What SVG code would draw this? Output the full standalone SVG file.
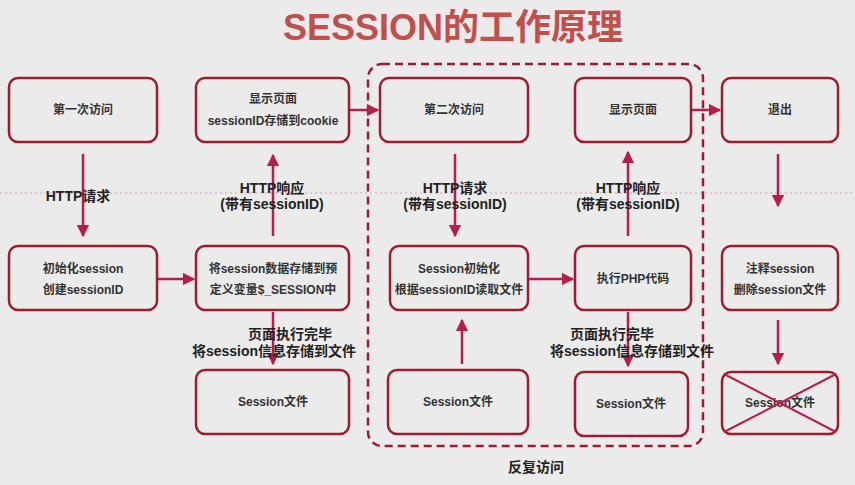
<svg xmlns="http://www.w3.org/2000/svg" width="855" height="485" viewBox="0 0 855 485">
<defs>
<marker id="ah" viewBox="0 0 10 10" refX="9" refY="5" markerWidth="5" markerHeight="5" orient="auto"><path d="M0,0L10,5L0,10z" fill="#b51d4c"/></marker>
<style>
.b{fill:none;stroke:#9b1b30;stroke-width:2.5}
.t{font-family:"Liberation Sans","Noto Sans CJK SC",sans-serif;font-size:12px;font-weight:bold;fill:#333;text-anchor:middle}
.l{font-family:"Liberation Sans","Noto Sans CJK SC",sans-serif;font-size:14px;font-weight:bold;fill:#222;text-anchor:middle}
.a{stroke:#b51d4c;stroke-width:2.5;fill:none;marker-end:url(#ah)}
</style>
</defs>
<rect width="855" height="485" fill="#ebebeb"/>
<line x1="0" y1="193" x2="855" y2="193" stroke="#d9a0aa" stroke-width="1" stroke-dasharray="2,3"/>
<text x="453" y="40" font-family="Liberation Sans,Noto Sans CJK SC,sans-serif" font-size="36" font-weight="bold" fill="#c0504d" text-anchor="middle">SESSION的工作原理</text>
<rect x="368" y="64" width="335" height="382" rx="14" fill="none" stroke="#9b1b30" stroke-width="2.5" stroke-dasharray="8,5"/>
<g id="connectors">
<line class="a" x1="83" y1="154" x2="83" y2="236"/>
<line class="a" x1="273" y1="236" x2="273" y2="155"/>
<line class="a" x1="273" y1="312" x2="273" y2="364"/>
<line class="a" x1="455" y1="154" x2="455" y2="236"/>
<line class="a" x1="462" y1="364" x2="462" y2="320"/>
<line class="a" x1="628" y1="236" x2="628" y2="152"/>
<line class="a" x1="628" y1="312" x2="628" y2="366"/>
<line class="a" x1="778" y1="154" x2="778" y2="206"/>
<line class="a" x1="778" y1="320" x2="778" y2="364"/>
<line class="a" x1="157" y1="279" x2="194" y2="279"/>
<line class="a" x1="349" y1="110" x2="378" y2="110"/>
<line class="a" x1="528" y1="279" x2="573" y2="279"/>
<line class="a" x1="691" y1="110" x2="720" y2="110"/>
</g>
<g id="n1"><rect class="b" x="9" y="78" width="148" height="64" rx="9"/><text class="t" x="83" y="114">第一次访问</text></g>
<g id="n2"><rect class="b" x="196" y="78" width="153" height="64" rx="9"/><text class="t" x="273" y="103">显示页面</text><text class="t" x="273" y="125">sessionID存储到cookie</text></g>
<g id="n3"><rect class="b" x="380" y="78" width="148" height="64" rx="9"/><text class="t" x="454" y="114">第二次访问</text></g>
<g id="n4"><rect class="b" x="575" y="78" width="116" height="64" rx="9"/><text class="t" x="633" y="114">显示页面</text></g>
<g id="n5"><rect class="b" x="722" y="78" width="116" height="64" rx="9"/><text class="t" x="780" y="114">退出</text></g>
<g id="n6"><rect class="b" x="9" y="246" width="148" height="64" rx="9"/><text class="t" x="83" y="273">初始化session</text><text class="t" x="83" y="294">创建sessionID</text></g>
<g id="n7"><rect class="b" x="196" y="246" width="153" height="64" rx="9"/><text class="t" x="273" y="273">将session数据存储到预</text><text class="t" x="273" y="294">定义变量$_SESSION中</text></g>
<g id="n8"><rect class="b" x="390" y="246" width="138" height="64" rx="9"/><text class="t" x="459" y="273">Session初始化</text><text class="t" x="459" y="294">根据sessionID读取文件</text></g>
<g id="n9"><rect class="b" x="575" y="246" width="116" height="64" rx="9"/><text class="t" x="633" y="283">执行PHP代码</text></g>
<g id="n10"><rect class="b" x="722" y="246" width="116" height="64" rx="9"/><text class="t" x="780" y="273">注释session</text><text class="t" x="780" y="294">删除session文件</text></g>
<g id="n11"><rect class="b" x="196" y="370" width="153" height="64" rx="9"/><text class="t" x="273" y="406">Session文件</text></g>
<g id="n12"><rect class="b" x="388" y="370" width="140" height="64" rx="9"/><text class="t" x="458" y="406">Session文件</text></g>
<g id="n13"><rect class="b" x="575" y="372" width="113" height="64" rx="9"/><text class="t" x="631" y="408">Session文件</text></g>
<g id="n14"><rect class="b" x="722" y="372" width="116" height="62" rx="9"/><text class="t" x="780" y="407">Session文件</text><line x1="724" y1="374" x2="836" y2="432" stroke="#b51d4c" stroke-width="2"/><line x1="836" y1="374" x2="724" y2="432" stroke="#b51d4c" stroke-width="2"/></g>
<g id="labels">
<text class="l" x="78" y="201">HTTP请求</text>
<text class="l" x="272" y="193">HTTP响应</text><text class="l" x="272" y="209">(带有sessionID)</text>
<text class="l" x="455" y="193">HTTP请求</text><text class="l" x="455" y="209">(带有sessionID)</text>
<text class="l" x="628" y="193">HTTP响应</text><text class="l" x="628" y="209">(带有sessionID)</text>
<text class="l" x="290" y="339">页面执行完毕</text><text class="l" x="274" y="356">将session信息存储到文件</text>
<text class="l" x="612" y="339">页面执行完毕</text><text class="l" x="632" y="356">将session信息存储到文件</text>
<text class="l" x="536" y="472" font-size="16">反复访问</text>
</g>
</svg>
